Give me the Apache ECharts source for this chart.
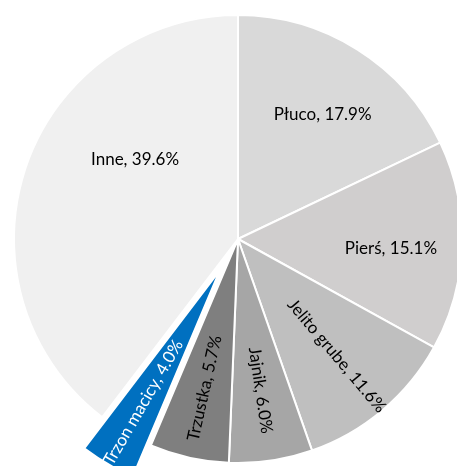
<!DOCTYPE html>
<html><head><meta charset="utf-8">
<script src="https://cdn.jsdelivr.net/npm/echarts@6/dist/echarts.min.js"></script>
<style>html,body{margin:0;padding:0;background:#fff}#c{width:457px;height:466px}</style>
</head><body><div id="c"></div>
<script>
const categories = ['Płuco', 'Pierś', 'Jelito grube', 'Jajnik', 'Trzustka', 'Trzon macicy', 'Inne'];
const values = [17.9, 15.1, 11.6, 6.0, 5.7, 4.0, 39.6];
const colors = ['#d9d9d9', '#d0cece', '#bfbfbf', '#a6a6a6', '#7f7f7f', '#0070c0', '#f0f0f0'];
const radialLabels = ['Jelito grube', 'Jajnik', 'Trzustka', 'Trzon macicy'];
const exploded = 'Trzon macicy';

const font = 'Lato, "Open Sans", sans-serif';
const center = [238, 239];
const R = 224;

const mainData = categories.map((c, i) => ({
  name: c, value: values[i],
  selected: c === exploded,
  itemStyle: { color: colors[i] }
}));
const labelData = categories.map((c, i) => ({
  name: c, value: values[i],
  selected: c === exploded,
  itemStyle: { color: 'rgba(0,0,0,0)' },
  label: {
    rotate: radialLabels.includes(c) ? 'radial' : 0,
    color: c === exploded ? '#ffffff' : '#000000',
    offset: c === 'Inne' ? [42, -31] : (c === 'Płuco' ? [3, 5] : (c === 'Pierś' ? [0, 5] : [0, 0]))
  }
}));

const chart = echarts.init(document.getElementById('c'));
chart.setOption({
  animation: false,
  series: [{
    type: 'pie', silent: true, center: center, radius: [0, R],
    startAngle: 90, clockwise: true, selectedMode: 'single', selectedOffset: 36,
    label: { show: false }, labelLine: { show: false },
    itemStyle: { borderColor: '#ffffff', borderWidth: 2 },
    emphasis: { disabled: true },
    data: mainData
  }, {
    type: 'pie', silent: true, center: center, radius: [76, R],
    startAngle: 90, clockwise: true, selectedMode: 'single', selectedOffset: 36,
    labelLine: { show: false },
    label: {
      show: true, position: 'inside', fontFamily: font, fontSize: 17,
      formatter: p => p.name + ', ' + p.value.toFixed(1) + '%'
    },
    emphasis: { disabled: true },
    data: labelData
  }]
});
</script></body></html>
